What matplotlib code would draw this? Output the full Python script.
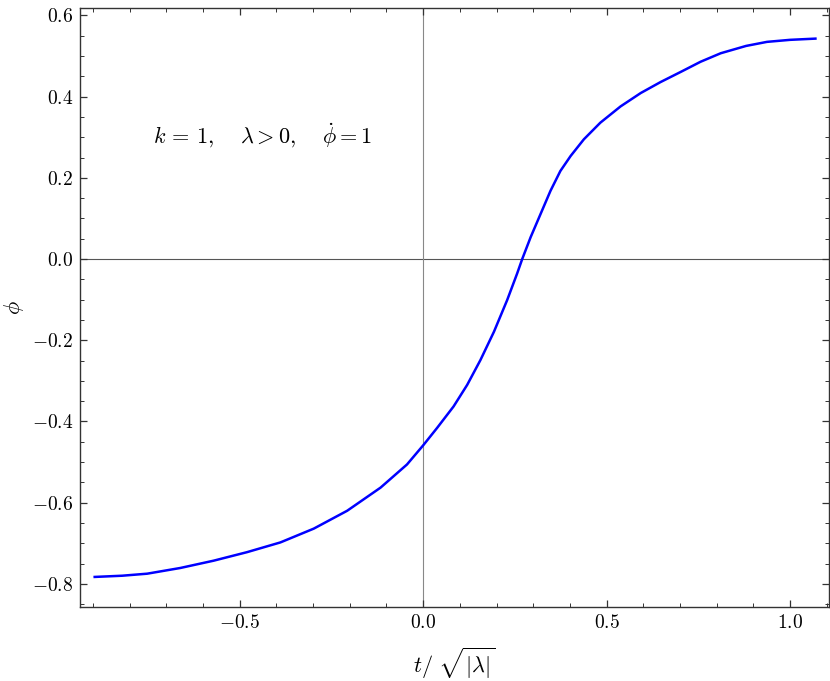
import matplotlib
matplotlib.use('Agg')
import matplotlib.pyplot as plt
from matplotlib.ticker import MultipleLocator, FixedLocator, FixedFormatter

plt.rcParams['mathtext.fontset'] = 'cm'
plt.rcParams['font.family'] = 'serif'

# curve
t_vals = [-0.895, -0.82, -0.752, -0.662, -0.571, -0.480, -0.389, -0.298, -0.207, -0.116,
          -0.044, 0.0, 0.038, 0.083, 0.120, 0.156, 0.193, 0.229, 0.256, 0.270,
          0.293, 0.320, 0.347, 0.374, 0.402, 0.438, 0.483, 0.538, 0.593, 0.647,
          0.702, 0.756, 0.811, 0.88, 0.937, 1.0, 1.069]
phi_vals = [-0.783, -0.780, -0.775, -0.761, -0.743, -0.722, -0.698, -0.664, -0.620, -0.563,
            -0.506, -0.459, -0.416, -0.363, -0.310, -0.249, -0.179, -0.101, -0.036, 0.0,
            0.054, 0.111, 0.168, 0.217, 0.254, 0.295, 0.336, 0.376, 0.409, 0.436,
            0.461, 0.486, 0.507, 0.525, 0.535, 0.540, 0.543]

xticks = [-0.5, 0.0, 0.5, 1.0]
xtick_labels = [r'$-0.5$', r'$0.0$', r'$0.5$', r'$1.0$']
yticks = [-0.8, -0.6, -0.4, -0.2, 0.0, 0.2, 0.4, 0.6]
ytick_labels = [r'$-0.8$', r'$-0.6$', r'$-0.4$', r'$-0.2$', r'$0.0$', r'$0.2$', r'$0.4$', r'$0.6$']

fig = plt.figure(figsize=(8.3, 6.81), dpi=100)
ax = fig.add_axes([0.0964, 0.1087, 0.9024, 0.8793])

ax.axhline(0, color='#555555', lw=0.8, zorder=1)
ax.axvline(0, color='#888888', lw=0.8, zorder=1)
ax.plot(t_vals, phi_vals, color='#0000ff', lw=1.8, zorder=3, solid_joinstyle='round')

ax.set_xlim(-0.935, 1.106)
ax.set_ylim(-0.857, 0.618)

ax.xaxis.set_major_locator(FixedLocator(xticks))
ax.xaxis.set_major_formatter(FixedFormatter(xtick_labels))
ax.xaxis.set_minor_locator(MultipleLocator(0.1))
ax.yaxis.set_major_locator(FixedLocator(yticks))
ax.yaxis.set_major_formatter(FixedFormatter(ytick_labels))
ax.yaxis.set_minor_locator(MultipleLocator(0.05))

ax.tick_params(which='both', direction='in', top=True, right=True, color='#333333')
ax.tick_params(which='major', length=5, width=0.9, labelsize=14, pad=5)
ax.tick_params(which='minor', length=3, width=0.7)
for s in ax.spines.values():
    s.set_color('#333333')
    s.set_linewidth(1.0)

ax.text(-0.736, 0.304, r'$k\, =\, 1,\quad\, \lambda > 0,\quad\, \dot{\phi} = 1$',
        fontsize=16, va='center', ha='left')

ax.set_xlabel(r'$t/\ \sqrt{|\lambda|}$', fontsize=16, labelpad=10)
ax.set_ylabel(r'$\phi$', fontsize=16, labelpad=4)

fig.savefig('out.png', dpi=100)
